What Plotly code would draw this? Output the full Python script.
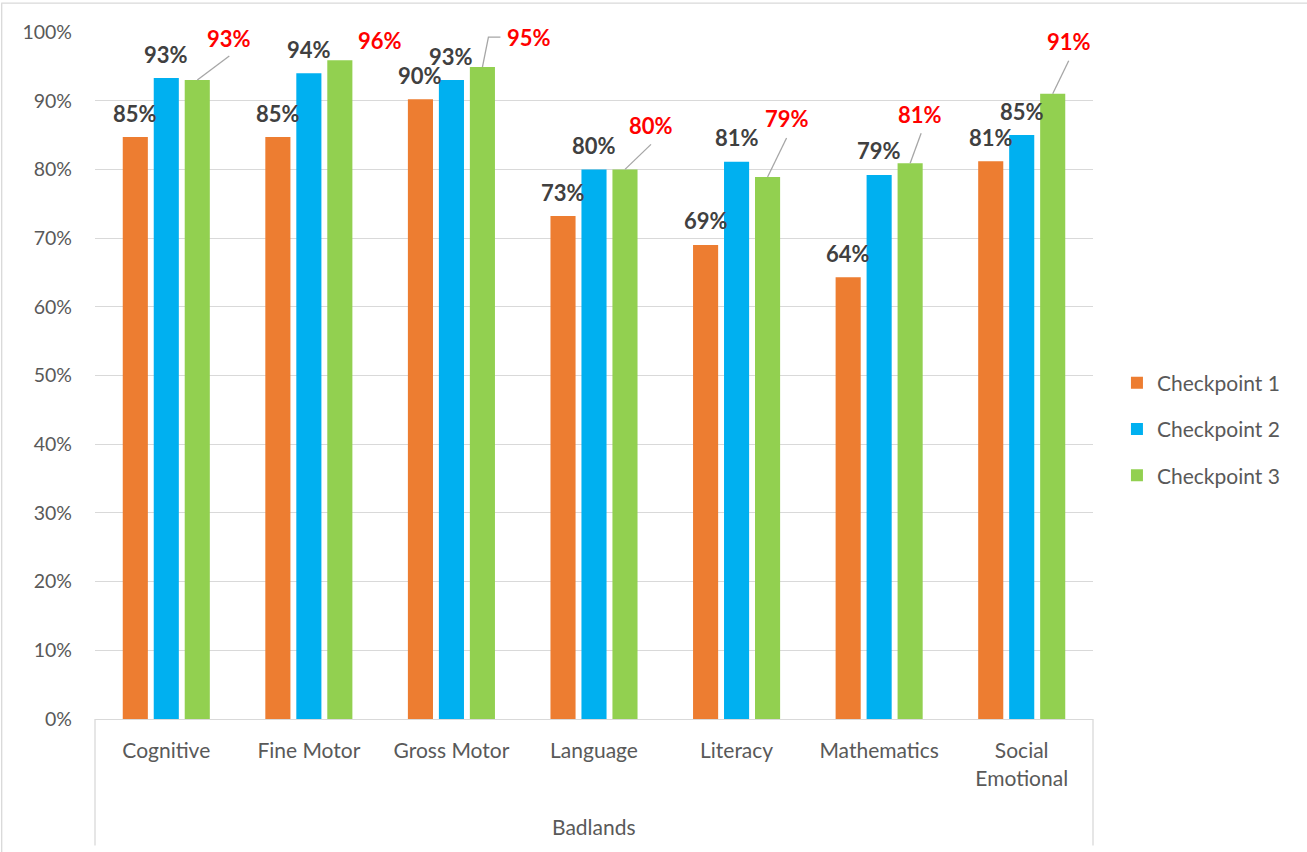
import plotly.graph_objects as go

categories = ["Cognitive", "Fine Motor", "Gross Motor", "Language", "Literacy", "Mathematics", "Social Emotional"]
tick_text = ["Cognitive", "Fine Motor", "Gross Motor", "Language", "Literacy", "Mathematics", "Social<br>Emotional"]
checkpoint1 = [84.7, 84.7, 90.2, 73.2, 69.0, 64.3, 81.2]
checkpoint2 = [93.3, 94.0, 93.0, 80.0, 81.1, 79.2, 85.0]
checkpoint3 = [93.0, 95.9, 94.9, 80.0, 78.9, 80.9, 91.0]
series_names = ["Checkpoint 1", "Checkpoint 2", "Checkpoint 3"]
group_label = "Badlands"

colors = ["#ED7D31", "#00B0F0", "#92D050"]
FONT = "Lato"
GRAY = "#595959"
DARK = "#404040"

# pixel offsets of the Checkpoint 3 labels relative to the bar top (dx, dy up)
label3_offsets = [(32, 41), (40, 19), (47, 29), (26, 43), (19, 57), (10, 48), (16, 51)]
leader_paths = [
    [(0, 0), (32, 24)],
    None,
    [(0, 0), (6, 30), (18, 30)],
    [(0, 0), (26, 25)],
    [(0, 0), (19, 39)],
    [(0, 0), (11, 30)],
    [(0, 0), (16, 33)],
]
BAR_OFF = 31

fig = go.Figure()
for name, vals, col in zip(series_names, [checkpoint1, checkpoint2, checkpoint3], colors):
    fig.add_trace(go.Bar(x=categories, y=vals, name=name, marker=dict(color=col, line=dict(width=0)),
                         legendgroup=name))

annotations = []
shapes = []
for i, cat in enumerate(categories):
    for vals, xs in ((checkpoint1, -BAR_OFF), (checkpoint2, 0)):
        annotations.append(dict(x=cat, y=vals[i], xref="x", yref="y", text=f"{round(vals[i])}%",
                                showarrow=False, xshift=xs, yshift=24, yanchor="middle", xanchor="center",
                                font=dict(family=FONT, size=22, color=DARK, weight="bold")))
    dx, dy = label3_offsets[i]
    annotations.append(dict(x=cat, y=checkpoint3[i], xref="x", yref="y", text=f"{round(checkpoint3[i])}%",
                            showarrow=False, xshift=BAR_OFF + dx, yshift=dy + 1, yanchor="middle", xanchor="center",
                            font=dict(family=FONT, size=22, color="#FF0000", weight="bold")))
    lp = leader_paths[i]
    if lp:
        path = "M" + " L".join(f"{BAR_OFF + px},{py}" for px, py in lp)
        shapes.append(dict(type="path", xref="x", yref="y", xsizemode="pixel", ysizemode="pixel",
                           xanchor=cat, yanchor=checkpoint3[i], path=path,
                           line=dict(color="#A6A6A6", width=1.3)))

# category axis box lines
for xp in (0, 1):
    shapes.append(dict(type="line", xref="paper", yref="paper", x0=xp, x1=xp, y0=0, y1=-0.184,
                       line=dict(color="#D9D9D9", width=1.3)))
# chart outer border (top, left)
shapes.append(dict(type="line", xref="paper", yref="paper", x0=-0.094, x1=1.22, y0=1.042, y1=1.042,
                   line=dict(color="#D9D9D9", width=1.3)))
shapes.append(dict(type="line", xref="paper", yref="paper", x0=-0.0935, x1=-0.0935, y0=1.042, y1=-0.2,
                   line=dict(color="#D9D9D9", width=1.3)))

annotations.append(dict(x=0.5, y=-0.156, xref="paper", yref="paper", text=group_label, showarrow=False,
                        yanchor="middle", font=dict(family=FONT, size=21, color=GRAY)))

fig.update_layout(
    width=1307, height=852,
    margin=dict(l=95, r=214, t=32, b=133),
    paper_bgcolor="white", plot_bgcolor="white",
    barmode="group", bargap=0.348, bargroupgap=0.19,
    font=dict(family=FONT, size=21, color=GRAY),
    xaxis=dict(tickmode="array", tickvals=categories, ticktext=tick_text, showgrid=False,
               showline=True, linecolor="#D9D9D9", linewidth=1.3, ticks="",
               tickfont=dict(family=FONT, size=21, color=GRAY), ticklabelstandoff=13),
    yaxis=dict(range=[0, 100], tickmode="array", tickvals=list(range(0, 101, 10)),
               ticktext=[f"{v}%" for v in range(0, 101, 10)], showgrid=True, gridcolor="#D9D9D9",
               gridwidth=1.3, zeroline=False, showline=False, ticks="",
               tickfont=dict(family=FONT, size=19.5, color=GRAY), ticklabelstandoff=22),
    legend=dict(x=1.024, y=0.422, xanchor="left", yanchor="middle", tracegroupgap=16,
                font=dict(family=FONT, size=21, color=GRAY), bgcolor="rgba(0,0,0,0)"),
    annotations=annotations, shapes=shapes, showlegend=True,
)

fig.write_html("out.html")
